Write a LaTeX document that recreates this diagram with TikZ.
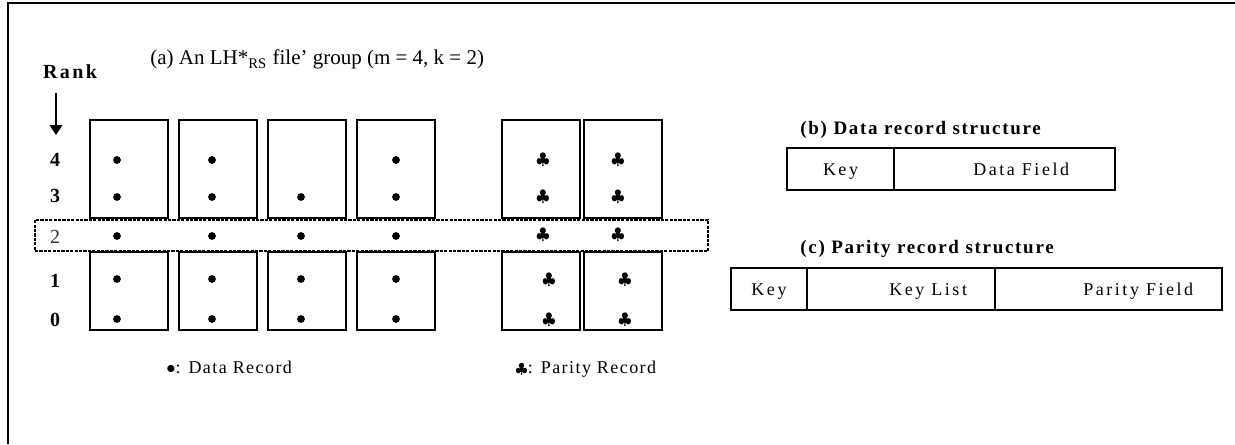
\documentclass[tikz,border=0pt]{standalone}
\usepackage{fontspec}
\setmainfont{Liberation Serif}
\usepackage{tikz}
\usetikzlibrary{positioning,arrows.meta}
\tikzset{
bucket/.style={
draw,
line width=0.6pt,
minimum width=39pt,
minimum height=49pt,
inner sep=0pt,
outer sep=0pt
},
lowbucket/.style={
bucket,
minimum height=39pt
},
record/.style={
circle,
fill,
inner sep=0pt,
minimum size=3.9pt
},
parity/.style={
inner sep=0pt,
font=\fontsize{8.5}{10}\selectfont
},
rank/.style={
inner sep=0pt,
font=\fontsize{10}{12}\selectfont\bfseries
},
rowband/.style={
draw,
line width=1pt,
dash pattern=on 1.6pt off 0.6pt,
minimum width=336.5pt,
minimum height=15.5pt,
inner sep=0pt
},
field/.style={
draw,
line width=0.6pt,
minimum height=21pt,
inner sep=0pt,
outer sep=0pt,
font=\fontsize{9}{11}\selectfont\addfontfeature{LetterSpace=14},
text height=6.5pt,
text depth=0pt
},
fieldtext/.style={
inner sep=0pt,
font=\fontsize{9}{11}\selectfont\addfontfeature{LetterSpace=14},
text height=6.5pt,
text depth=0pt
},
caption/.style={
inner sep=0pt,
anchor=base west,
font=\fontsize{9.5}{11}\selectfont\bfseries\addfontfeature{LetterSpace=9}
},
legend/.style={
inner sep=0pt,
anchor=base west,
font=\fontsize{9}{11}\selectfont\addfontfeature{LetterSpace=8}
},
arrow/.style={
-{Triangle[length=5pt,width=6.5pt]},
line width=0.6pt
}
}
\begin{document}
\begin{tikzpicture}[x=0.5pt,y=-0.5pt]
\useasboundingbox (0,0) rectangle (1235,444);
\draw[line width=1.25pt] (8,444) -- (8,3) -- (1235,3);

\node[anchor=base west,inner sep=0pt,font=\fontsize{10.5}{12}\selectfont] (title) at (150,65) {(a) An LH*\textsubscript{RS} file' group (m = 4, k = 2)};
\node[rank,anchor=base,font=\fontsize{10}{12}\selectfont\bfseries\addfontfeature{LetterSpace=12}] (rank) at (70,79) {Rank};
\coordinate (arrowtip) at (56,135);
\draw[arrow,shorten <=6.5pt] (rank.south -| arrowtip) -- (arrowtip);

% buckets of the group
\node[bucket] (data1) at (129,169) {};
\node[bucket,right=5.5pt of data1] (data2) {};
\node[bucket,right=5.5pt of data2] (data3) {};
\node[bucket,right=5.5pt of data3] (data4) {};
\node[bucket,right=33.5pt of data4] (par1) {};
\node[bucket,right=2pt of par1] (par2) {};
\node[lowbucket,below=17pt of data1] (data1low) {};
\node[lowbucket,below=17pt of data2] (data2low) {};
\node[lowbucket,below=17pt of data3] (data3low) {};
\node[lowbucket,below=17pt of data4] (data4low) {};
\node[lowbucket,below=17pt of par1] (par1low) {};
\node[lowbucket,below=17pt of par2] (par2low) {};
\node[rowband,fill=white] (band) at (371.5,235.5) {};

% ranks
\node[rank] (r4) at (55,160) {4};
\node[rank] (r3) at (55,196) {3};
\node[rank,font=\fontsize{10}{12}\selectfont\mdseries,text=black!80] (r2) at (55,237) {2};
\node[rank] (r1) at (55,281) {1};
\node[rank] (r0) at (55,320) {0};

% records
\foreach \x in {117,212,396} \node[record] (d\x-4) at (\x,160) {};
\foreach \x in {117,212,301,396} {
\node[record] (d\x-3) at (\x,197) {};
\node[record] (d\x-2) at (\x,236) {};
\node[record] (d\x-1) at (\x,279) {};
\node[record] (d\x-0) at (\x,319) {};
}
\foreach \x in {543,618} {
\node[parity] (p\x-4) at (\x,160) {$\clubsuit$};
\node[parity] (p\x-3) at (\x,197) {$\clubsuit$};
\node[parity] (p\x-2) at (\x,235) {$\clubsuit$};
}
\foreach \x in {549,625} {
\node[parity] (p\x-1) at (\x,280) {$\clubsuit$};
\node[parity] (p\x-0) at (\x,320) {$\clubsuit$};
}

\node[legend] (datakey) at (166,373) {$\bullet$: Data Record};
\node[legend] (paritykey) at (515,373) {{\fontsize{7.5}{8}\selectfont$\clubsuit$}: Parity Record};

% record structures
\node[caption] (btitle) at (800,134) {(b) Data record structure};
\node[field,minimum width=53.5pt] (bkey) at (840.5,169) {Key};
\node[field,minimum width=110.5pt,right=0pt of bkey] (bdata) {};
\node[fieldtext,right=39.5pt of bkey.east] (bdatatext) {Data Field};

\node[caption] (ctitle) at (800,253) {(c) Parity record structure};
\node[field,minimum width=38pt] (ckey) at (769,289) {Key};
\node[field,minimum width=94pt,right=0pt of ckey] (clist) {};
\node[field,minimum width=113.5pt,right=0pt of clist] (cparity) {};
\node[fieldtext,right=41pt of ckey.east] (clisttext) {Key List};
\node[fieldtext,right=44pt of clist.east] (cparitytext) {Parity Field};
\end{tikzpicture}
\end{document}
